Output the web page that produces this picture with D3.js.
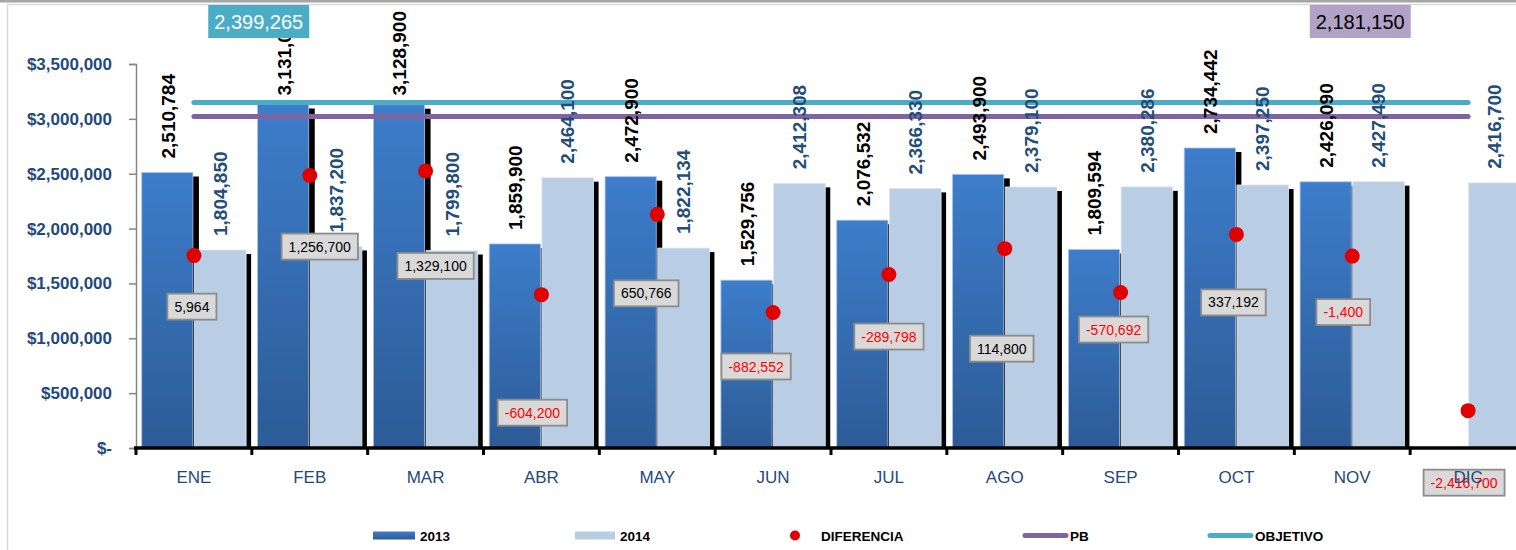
<!DOCTYPE html>
<html><head><meta charset="utf-8">
<script src="https://cdn.jsdelivr.net/npm/d3@7"></script>
<style>html,body{margin:0;padding:0;background:#fff;overflow:hidden}svg{display:block}</style>
</head><body>
<svg id="c" width="1516" height="550"></svg>
<script>
const months = ["ENE","FEB","MAR","ABR","MAY","JUN","JUL","AGO","SEP","OCT","NOV","DIC"];
const values2013 = [2510784,3131000,3128900,1859900,2472900,1529756,2076532,2493900,1809594,2734442,2426090,null];
const values2014 = [1804850,1837200,1799800,2464100,1822134,2412308,2366330,2379100,2380286,2397250,2427490,2416700];
const diferencia = [5964,1256700,1329100,-604200,650766,-882552,-289798,114800,-570692,337192,-1400,-2416700];
const pb = [2181150,2181150,2181150,2181150,2181150,2181150,2181150,2181150,2181150,2181150,2181150,2181150];
const objetivo = [2399265,2399265,2399265,2399265,2399265,2399265,2399265,2399265,2399265,2399265,2399265,2399265];
const yTicks = [0,500000,1000000,1500000,2000000,2500000,3000000,3500000];
const legendLabels = ["2013","2014","DIFERENCIA","PB","OBJETIVO"];

// layout (pixels) for manually placed difference labels, relative to their dot
const diffLabelOffsets = [[-2,51],[10,71],[10,95],[-9,118],[-11,79],[-17,54],[0,62],[-3,100],[-7,37],[-3,68],[-9,56],[-4,72]];

const svg = d3.select("#c");
const W = 1516, H = 550;
const L = 136, R = 1526, T = 64, B = 448;

// frame
svg.append("rect").attr("x",7.5).attr("y",4.5).attr("width",W).attr("height",H).attr("fill","none").attr("stroke","#d9d9d9").attr("stroke-width",1.5);
svg.append("rect").attr("x",0).attr("y",0).attr("width",W).attr("height",2.5).attr("fill","#a6a6a6");

const defs = svg.append("defs");
const g1 = defs.append("linearGradient").attr("id","g2013").attr("x1",0).attr("y1",0).attr("x2",0).attr("y2",1);
g1.append("stop").attr("offset","0%").attr("stop-color","#3d7dcb");
g1.append("stop").attr("offset","100%").attr("stop-color","#2c5b96");
const gl = defs.append("linearGradient").attr("id","g2013L").attr("x1",0).attr("y1",0).attr("x2",0).attr("y2",1);
gl.append("stop").attr("offset","0%").attr("stop-color","#3d7dcb");
gl.append("stop").attr("offset","100%").attr("stop-color","#2c5b96");

const x = d3.scaleBand().domain(months).range([L,R]).paddingInner(0).paddingOuter(0);
const x1 = d3.scaleBand().domain(["2013","2014"]).range([0,x.bandwidth()]).paddingInner(0).paddingOuter(0.11);
const y = d3.scaleLinear().domain([0,3500000]).range([B,T]);
const y2 = d3.scaleLinear().domain([-3000000,3000000]).range([B,T]);
const cx = m => x(m) + x.bandwidth()/2;

const locale = d3.formatLocale({decimal:".", thousands:",", grouping:[3], currency:["$",""], minus:"-"});
const fmt = locale.format(",");

// y axis
const yAxis = svg.append("g").attr("transform",`translate(${L},0)`)
  .call(d3.axisLeft(y).tickValues(yTicks).tickSize(7).tickPadding(17)
    .tickFormat(d => d === 0 ? "$-" : "$" + fmt(d)));
yAxis.select(".domain").attr("stroke","#868686").attr("stroke-width",1.5);
yAxis.selectAll(".tick line").attr("stroke","#868686").attr("stroke-width",1.5);
yAxis.selectAll(".tick text").attr("fill","#1f497d").attr("font-family","Liberation Sans, Arial, sans-serif")
  .attr("font-weight","bold").attr("font-size",17);

const d13 = months.map((m,i)=>({m, v: values2013[i]})).filter(d=>d.v!=null && d.v>0);
const d14 = months.map((m,i)=>({m, v: values2014[i]})).filter(d=>d.v!=null && d.v>0);

const SDX = 5, SDY = 4;
const bars = svg.append("g");
// 2013 shadows + bars
bars.selectAll(".s13").data(d13).join("rect")
  .attr("x", d => x(d.m)+x1("2013")+SDX).attr("y", d => y(d.v)+SDY)
  .attr("width", x1.bandwidth()).attr("height", d => B - y(d.v) - SDY).attr("fill","#000");
bars.selectAll(".b13").data(d13).join("rect")
  .attr("x", d => x(d.m)+x1("2013")).attr("y", d => y(d.v))
  .attr("width", x1.bandwidth()-1).attr("height", d => B - y(d.v))
  .attr("fill","url(#g2013)").attr("stroke","#a9c4e8").attr("stroke-width",0.8);
// 2014 shadows + bars
bars.selectAll(".s14").data(d14).join("rect")
  .attr("x", d => x(d.m)+x1("2014")+SDX).attr("y", d => y(d.v)+SDY)
  .attr("width", x1.bandwidth()).attr("height", d => B - y(d.v) - SDY).attr("fill","#000");
bars.selectAll(".b14").data(d14).join("rect")
  .attr("x", d => x(d.m)+x1("2014")+0.5).attr("y", d => y(d.v))
  .attr("width", x1.bandwidth()-0.5).attr("height", d => B - y(d.v))
  .attr("fill","#b9cde5").attr("stroke","#dfe8f3").attr("stroke-width",0.8);

// x axis
const xAxis = svg.append("g").attr("transform",`translate(0,${B})`);
xAxis.append("line").attr("x1",L-2).attr("x2",W).attr("y1",0).attr("y2",0).attr("stroke","#000").attr("stroke-width",3.5);
xAxis.selectAll(".xt").data(months.concat(["_end"])).join("line")
  .attr("x1",(d,i)=> L + i*x.step()).attr("x2",(d,i)=> L + i*x.step())
  .attr("y1",0).attr("y2",7).attr("stroke","#000").attr("stroke-width",3);

// lines (secondary axis)
const line = d3.line().x((d,i)=>cx(months[i])).y(d=>y2(d));
svg.append("path").datum(objetivo).attr("d",line).attr("fill","none").attr("stroke","#4bacc6").attr("stroke-width",5).attr("stroke-linecap","round");
svg.append("path").datum(pb).attr("d",line).attr("fill","none").attr("stroke","#8064a2").attr("stroke-width",5).attr("stroke-linecap","round");

// value labels
const vl = svg.append("g").attr("font-family","Liberation Sans, Arial, sans-serif").attr("font-weight","bold").attr("font-size",19);
function rotLabels(data, key, color){
  data.forEach(d => {
    const xc = x(d.m) + x1(key) + x1.bandwidth()/2;
    const t = vl.append("text").attr("text-anchor","start").attr("fill",color)
      .attr("dy","0.36em").text(fmt(d.v));
    const len = t.node().getComputedTextLength();
    let end = y(d.v) - 14;
    if (end - len < 11) end = 11 + len;
    t.attr("transform",`translate(${xc},${end}) rotate(-90)`);
  });
}
rotLabels(d13,"2013","#000");
rotLabels(d14,"2014","#1f4e79");

// diferencia dots
const diffs = months.map((m,i)=>({m, v: diferencia[i], off: diffLabelOffsets[i]}));
svg.append("g").selectAll("circle").data(diffs).join("circle")
  .attr("cx", d => cx(d.m)).attr("cy", d => y2(d.v)).attr("r",7.5).attr("fill","#e00000");

// diferencia labels
const dl = svg.append("g").attr("font-family","Liberation Sans, Arial, sans-serif").attr("font-size",14);
diffs.forEach(d => {
  const px = cx(d.m) + d.off[0], py = y2(d.v) + d.off[1];
  const gg = dl.append("g");
  const r = gg.append("rect");
  const t = gg.append("text").attr("x",px).attr("y",py).attr("dy","0.36em").attr("text-anchor","middle")
    .attr("fill", d.v < 0 ? "#ff0000" : "#000").text(fmt(d.v));
  const w = t.node().getComputedTextLength() + 14;
  r.attr("x",px - w/2).attr("y",py-13).attr("width",w).attr("height",26)
    .attr("fill","#d9d9d9").attr("stroke","#8c8c8c").attr("stroke-width",1.8);
});

// x labels (on top)
svg.append("g").selectAll("text").data(months).join("text")
  .attr("x", d => cx(d)).attr("y", 483).attr("text-anchor","middle")
  .attr("fill","#1f497d").attr("font-family","Liberation Sans, Arial, sans-serif").attr("font-size",17).text(d=>d);

// line value boxes
function valueBox(val, xc, fill, color){
  const g = svg.append("g");
  const r = g.append("rect");
  const t = g.append("text").attr("x",xc).attr("y",21.5).attr("dy","0.36em").attr("text-anchor","middle")
    .attr("fill",color).attr("font-family","Liberation Sans, Arial, sans-serif").attr("font-size",20).text(fmt(val));
  const w = t.node().getComputedTextLength() + 12;
  r.attr("x",xc-w/2).attr("y",5).attr("width",w).attr("height",33).attr("fill",fill);
}
valueBox(objetivo[1], cx("FEB") - 51, "#4bacc6", "#fff");
valueBox(pb[10], cx("NOV") + 8, "#b3a2c7", "#000");

// legend
const lg = svg.append("g").attr("font-family","Liberation Sans, Arial, sans-serif").attr("font-weight","bold").attr("font-size",13.5).attr("fill","#000");
lg.append("rect").attr("x",373).attr("y",531.5).attr("width",42).attr("height",8).attr("fill","url(#g2013L)");
lg.append("text").attr("x",420).attr("y",540.5).text(legendLabels[0]);
lg.append("rect").attr("x",575).attr("y",531.5).attr("width",40).attr("height",8).attr("fill","#b9cde5");
lg.append("text").attr("x",620).attr("y",540.5).text(legendLabels[1]);
lg.append("circle").attr("cx",795).attr("cy",535.5).attr("r",5).attr("fill","#e00000");
lg.append("text").attr("x",821).attr("y",540.5).text(legendLabels[2]);
lg.append("line").attr("x1",1025).attr("x2",1066).attr("y1",535.5).attr("y2",535.5).attr("stroke","#8064a2").attr("stroke-width",5).attr("stroke-linecap","round");
lg.append("text").attr("x",1070).attr("y",540.5).text(legendLabels[3]);
lg.append("line").attr("x1",1210).attr("x2",1251).attr("y1",535.5).attr("y2",535.5).attr("stroke","#4bacc6").attr("stroke-width",5).attr("stroke-linecap","round");
lg.append("text").attr("x",1255).attr("y",540.5).text(legendLabels[4]);
</script>
</body></html>
